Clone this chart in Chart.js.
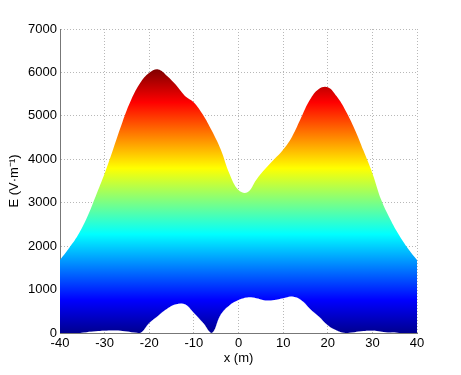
<!DOCTYPE html>
<html>
<head>
<meta charset="utf-8">
<script src="https://cdn.jsdelivr.net/npm/chart.js@4/dist/chart.umd.min.js"></script>
<style>
  html, body { margin: 0; padding: 0; background: #fff; }
  #wrap { width: 461px; height: 375px; }
</style>
</head>
<body>
<div id="wrap"><canvas id="chart" width="461" height="375"></canvas></div>
<script>
// x positions (m)
const xValues = [-40, -38, -36, -34, -32, -30, -28, -26, -24, -22, -20, -18, -16, -14, -12, -10, -8, -6, -4, -2,
                 0, 2, 4, 6, 8, 10, 12, 14, 16, 18, 20, 22, 24, 26, 28, 30, 32, 34, 36, 38, 40];
// upper envelope of E (V/m)
const upperE = [1680, 1950, 2250, 2650, 3150, 3670, 4260, 4860, 5380, 5760, 5990, 6070, 5920, 5710, 5460, 5310, 5030, 4660, 4230, 3660,
                3290, 3240, 3530, 3780, 4000, 4220, 4520, 4950, 5370, 5620, 5660, 5450, 5120, 4700, 4200, 3680, 3060, 2620, 2250, 1940, 1680];
// lower envelope of E (V/m)
const lowerE = [0, 0, 0, 20, 40, 50, 55, 45, 20, 0, 230, 400, 560, 660, 660, 460, 240, 0, 420, 640,
                760, 820, 800, 750, 760, 800, 840, 760, 560, 380, 180, 60, 0, 20, 45, 50, 30, 10, 0, 0, 0];

const xTicks = [-40, -30, -20, -10, 0, 10, 20, 30, 40];
const yTicks = [0, 1000, 2000, 3000, 4000, 5000, 6000, 7000];

const colorMax = 6070;

// jet colormap as a vertical gradient along the y scale
function jetFill(context) {
    const chart = context.chart;
    const area = chart.chartArea;
    if (!area) return 'rgba(0,0,0,0)';
    const y = chart.scales.y;
    const g = chart.ctx.createLinearGradient(0, y.getPixelForValue(0), 0, y.getPixelForValue(colorMax));
    g.addColorStop(0, 'rgb(0,0,143)');
    g.addColorStop(0.125, 'rgb(0,0,255)');
    g.addColorStop(0.375, 'rgb(0,255,255)');
    g.addColorStop(0.625, 'rgb(255,255,0)');
    g.addColorStop(0.875, 'rgb(255,0,0)');
    g.addColorStop(1, 'rgb(128,0,0)');
    return g;
}

const toPoints = (arr) => arr.map((v, i) => ({ x: xValues[i], y: v }));

const font = { family: '"Liberation Sans", Arial, sans-serif', size: 13 };

new Chart(document.getElementById('chart'), {
    type: 'line',
    data: {
        datasets: [{
            label: 'lower',
            data: toPoints(lowerE),
            borderColor: 'rgba(0,0,0,0)',
            borderWidth: 0,
            pointRadius: 0,
            tension: 0.4,
            fill: false
        }, {
            label: 'upper',
            data: toPoints(upperE),
            borderColor: 'rgba(0,0,0,0)',
            borderWidth: 0,
            pointRadius: 0,
            tension: 0.4,
            backgroundColor: jetFill,
            fill: { target: 0, above: jetFill, below: jetFill }
        }]
    },
    options: {
        responsive: false,
        animation: false,
        layout: { padding: { left: 0, right: 44, top: 29, bottom: 0 } },
        plugins: { legend: { display: false }, tooltip: { enabled: false } },
        scales: {
            x: {
                type: 'linear',
                min: -40, max: 40,
                afterBuildTicks: (s) => { s.ticks = xTicks.map(v => ({ value: v })); },
                afterFit: (s) => { s.height = 42; },
                ticks: { color: '#000', font: font, padding: 3, maxRotation: 0, callback: (v) => String(v) },
                grid: { color: '#b8b8b8', lineWidth: 1, drawTicks: false },
                border: { display: true, color: '#777', dash: [1, 2] },
                title: { display: true, text: 'x (m)', color: '#000', font: font, padding: { top: 0, bottom: 9 } }
            },
            y: {
                min: 0, max: 7000,
                afterBuildTicks: (s) => { s.ticks = yTicks.map(v => ({ value: v })); },
                afterFit: (s) => { s.width = 60; },
                ticks: { color: '#000', font: font, padding: 3, callback: (v) => String(v) },
                grid: { color: '#b8b8b8', lineWidth: 1, drawTicks: false },
                border: { display: true, color: '#777', dash: [1, 2] },
                title: { display: true, text: 'E (V·m⁻¹)', color: '#000', font: font, padding: { top: 7, bottom: 0 } }
            }
        }
    }
});
</script>
</body>
</html>
